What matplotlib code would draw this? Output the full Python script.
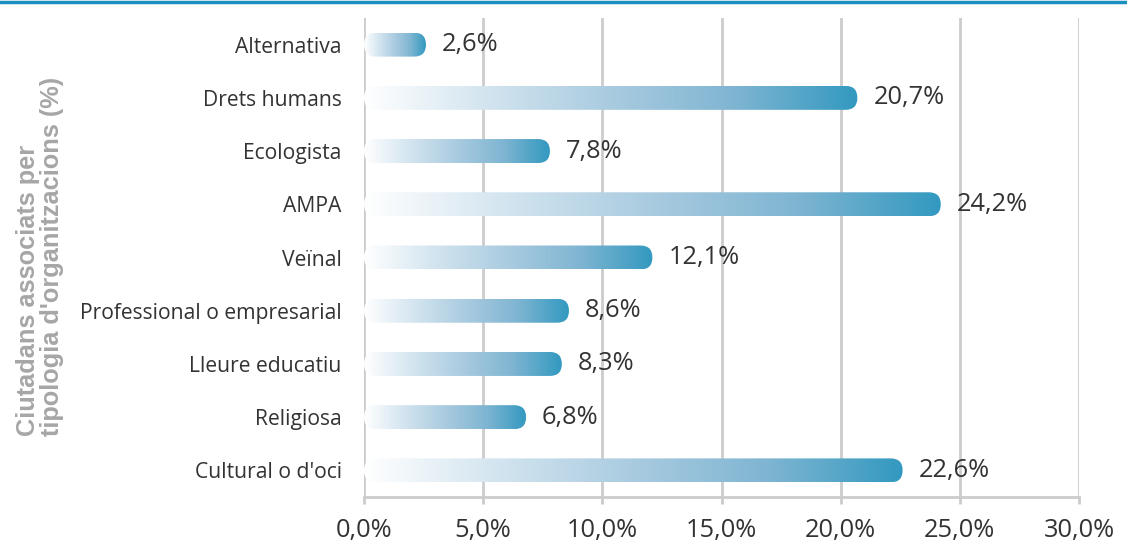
import matplotlib.pyplot as plt
import numpy as np
from matplotlib.colors import LinearSegmentedColormap
from matplotlib.patches import FancyBboxPatch
from matplotlib.lines import Line2D

categories = ["Alternativa", "Drets humans", "Ecologista", "AMPA", "Veïnal",
              "Professional o empresarial", "Lleure educatiu", "Religiosa",
              "Cultural o d'oci"]
values = [2.6, 20.7, 7.8, 24.2, 12.1, 8.6, 8.3, 6.8, 22.6]
xticks = [0, 5, 10, 15, 20, 25, 30]

plt.rcParams['font.family'] = ['Open Sans', 'DejaVu Sans']

W, H = 1127, 545
fig = plt.figure(figsize=(W / 100, H / 100), dpi=100)
ax = fig.add_axes([364 / W, 48 / H, 715 / W, 479 / H])

n = len(categories)
ax.set_xlim(0, 30)
ax.set_ylim(n - 0.5, -0.5)

# pixel -> data scale for rounded ends
px_x = 30 / 715
px_y = n / 479
bar_h = 24 * px_y
rx = 12 * px_x

cmap = LinearSegmentedColormap.from_list(
    "bar", ["#ffffff", "#d2e4ef", "#a9cbe0", "#7fb5d2", "#3399c0"])
grad = np.linspace(0, 1, 256).reshape(1, -1)

for i, v in enumerate(values):
    y0 = i - bar_h / 2
    box = FancyBboxPatch((0, y0), v, bar_h,
                         boxstyle=f"round,pad=0,rounding_size={rx}",
                         mutation_aspect=(bar_h / 2) / rx,
                         facecolor="none", edgecolor="none")
    ax.add_patch(box)
    im = ax.imshow(grad, cmap=cmap, aspect="auto",
                   extent=(0, v, y0 + bar_h, y0), zorder=3)
    im.set_clip_path(box)
    ax.annotate(f"{v:.1f}%".replace(".", ","), (v, i),
                xytext=(11.5, 0), textcoords="offset points",
                va="center", ha="left", fontsize=18.3, color="#333333")

ax.set_xticks(xticks)
ax.set_xticklabels([f"{t:.1f}%".replace(".", ",") for t in xticks],
                   fontsize=18.3, color="#333333")
ax.set_yticks(range(n))
ax.set_yticklabels(categories, fontsize=15.2, color="#333333")
ax.tick_params(axis="y", length=0, pad=16)
ax.tick_params(axis="x", length=5, width=2, color="#cccccc", pad=10)

ax.grid(axis="x", color="#cccccc", linewidth=2)
ax.set_axisbelow(True)
for s in ["top", "right", "left"]:
    ax.spines[s].set_visible(False)
ax.spines["bottom"].set_color("#cccccc")
ax.spines["bottom"].set_linewidth(2)

fig.text(40 / W, (H - 256) / H,
         "Ciutadans associats per\ntipologia d'organitzacions (%)",
         rotation=90, ha="center", va="center", multialignment="left",
         fontsize=18.3, fontweight="bold", color="#a6a6a6", linespacing=1.05,
         family=["Liberation Sans", "DejaVu Sans"])

# blue rule along the top edge
fig.add_artist(Line2D([0, 1], [1 - 1.5 / H, 1 - 1.5 / H],
                      transform=fig.transFigure, color="#1a8fc0", linewidth=2.5))

fig.savefig("out.png", dpi=100)
